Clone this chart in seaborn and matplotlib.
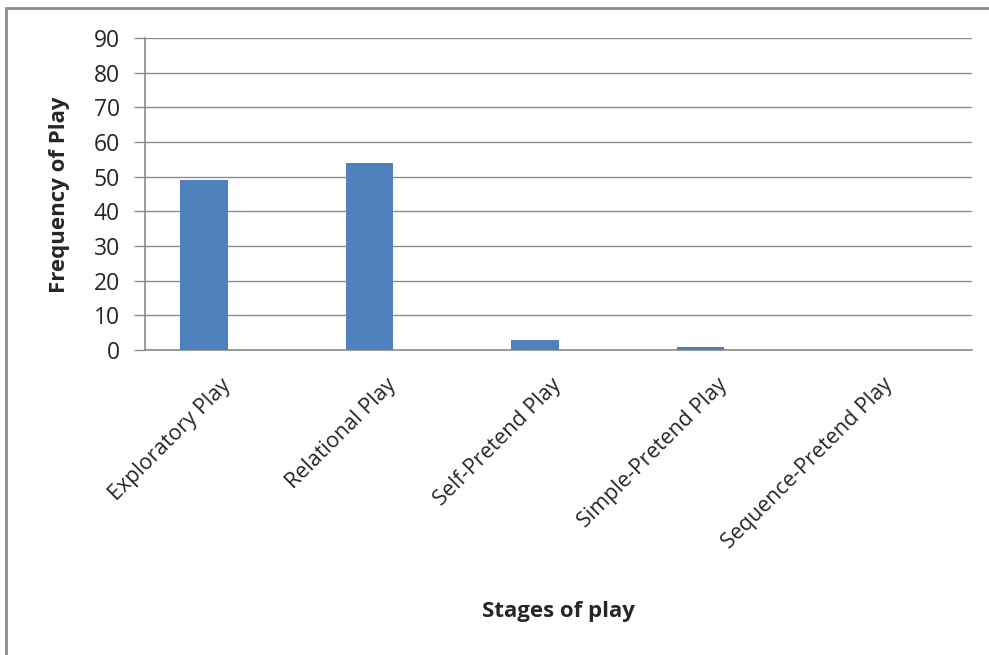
import matplotlib
matplotlib.use("Agg")
import matplotlib.pyplot as plt
import seaborn as sns
import pandas as pd
from matplotlib.patches import Rectangle

categories = ["Exploratory Play", "Relational Play", "Self-Pretend Play",
              "Simple-Pretend Play", "Sequence-Pretend Play"]
values = [49, 54, 3, 1, 0]
# the original Excel chart reserves room for a second, empty series
empty_series = [0, 0, 0, 0, 0]
yticks = [0, 10, 20, 30, 40, 50, 60, 70, 80, 90]

df = pd.DataFrame({
    "stage": categories * 2,
    "freq": values + empty_series,
    "series": ["Series1"] * len(categories) + ["Series2"] * len(categories),
})

sns.set_style("white")
plt.rcParams['font.family'] = ['Open Sans', 'DejaVu Sans']

fig = plt.figure(figsize=(9.89, 6.55), dpi=100)
ax = fig.add_axes([145/989, 1-350/655, (972-145)/989, (350-38)/655])

sns.barplot(data=df, x="stage", y="freq", hue="series",
            palette=["#4F81BD", "#C0504D"], width=0.572, dodge=True,
            saturation=1, linewidth=0, ax=ax, legend=False, zorder=3)

ax.set_ylim(0, 90)
ax.set_xlim(-0.5, 4.5)
ax.set_yticks(yticks)
ax.set_yticklabels([str(v) for v in yticks], fontsize=16.5)
ax.yaxis.grid(True, color="#8C8C8C", linewidth=1.0, zorder=0)
ax.set_axisbelow(True)
for s in ["top", "right"]:
    ax.spines[s].set_visible(False)
for s in ["left", "bottom"]:
    ax.spines[s].set_color("#8C8C8C")
    ax.spines[s].set_linewidth(1.2)
ax.tick_params(axis="y", length=8, color="#8C8C8C", width=1, pad=10, left=True)
ax.tick_params(axis="x", length=0, pad=23)
ax.set_xticks(range(len(categories)))
ax.set_xticklabels(categories, rotation=45, ha="right", va="center",
                   rotation_mode="anchor", fontsize=15.5)
ax.set_xlabel("Stages of play", fontsize=16, fontweight="bold", labelpad=0)
ax.xaxis.set_label_coords((558-145)/(972-145), -(601-350)/(350-38))
ax.set_ylabel("Frequency of Play", fontsize=16, fontweight="bold")
ax.yaxis.set_label_coords(-(145-70)/(972-145), (350-195)/(350-38))

# outer chart border
fig.patches.append(Rectangle((6/989, -0.1), 1.2, 1 - 8/655 + 0.1,
                             transform=fig.transFigure, fill=False,
                             edgecolor="#8C8C8C", linewidth=2))

fig.savefig("out.png", dpi=100)
